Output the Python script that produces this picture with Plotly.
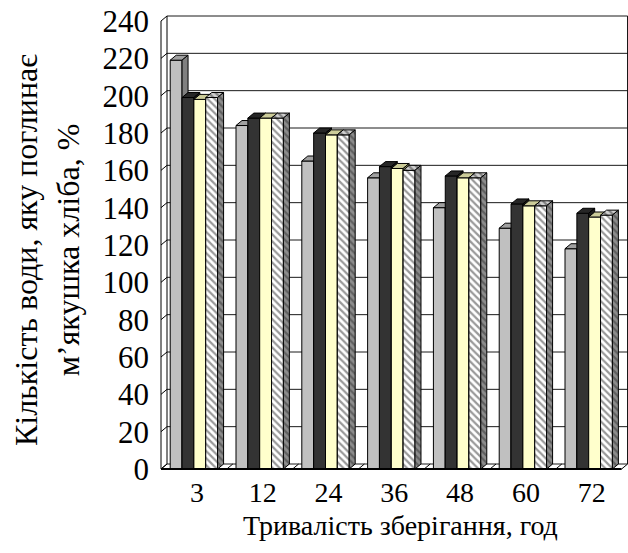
import plotly.graph_objects as go

# Storage time categories (hours) and absorbed-water values, %
hours = ["3", "12", "24", "36", "48", "60", "72"]
series_gray = [219, 184, 165, 156, 140, 129, 118]
series_black = [199, 188, 180, 162, 157, 142, 137]
series_yellow = [198, 188, 179, 161, 156, 141, 135]
series_hatch = [199, 188, 179, 160, 156, 141, 136]
y_ticks = list(range(0, 241, 20))

W, H = 628, 553
# pixel frame of the front plane and the 3-D depth offset
FRONT_L, FRONT_R = 161.0, 621.6
FRONT_B, FRONT_T = 469.0, 21.0
DEPTH_X, DEPTH_Y = 6.0, 5.0
PLOT_L, PLOT_R, PLOT_T, PLOT_B = 158, 628, 14, 471

n = len(hours)
sx = (FRONT_R - FRONT_L) / n
sy = (FRONT_B - FRONT_T) / 240.0
DX = DEPTH_X / sx
DY = DEPTH_Y / sy
x_lo = -0.5 - (FRONT_L - PLOT_L) / sx
x_hi = -0.5 + (PLOT_R - FRONT_L) / sx
y_lo = -(PLOT_B - FRONT_B) / sy
y_hi = (FRONT_B - PLOT_T) / sy

BAR_W = 0.18
GROUP_START = -0.36

styles = [
    dict(front="#C0C0C0", top="#A0A0A0", side="#808080", pat=None),
    dict(front="#333333", top="#262626", side="#1A1A1A", pat=None),
    dict(front="#FFFFCC", top="#CCCC99", side="#999966", pat=None),
    dict(front="#FFFFFF", top="#D0D0D0", side="#8C8C8C", pat="\\"),
]
all_series = [series_gray, series_black, series_yellow, series_hatch]

fig = go.Figure()


def line_trace(xs, ys, width=1, color="black"):
    fig.add_trace(go.Scatter(x=xs, y=ys, mode="lines", hoverinfo="skip",
                             line=dict(color=color, width=width),
                             showlegend=False))


# back wall gridlines
gx, gy = [], []
for v in y_ticks:
    gx += [-0.5 + DX, n - 0.5 + DX, None]
    gy += [v + DY, v + DY, None]
line_trace(gx, gy, 1, "#1A1A1A")
# back wall side edges
line_trace([-0.5 + DX, -0.5 + DX, None, n - 0.5 + DX, n - 0.5 + DX],
           [DY, 240 + DY, None, DY, 240 + DY])
# left wall: front edge, top edge and the tick diagonals
wx, wy = [-0.5, -0.5, None], [0, 240, None]
for v in y_ticks:
    wx += [-0.5, -0.5 + DX, None]
    wy += [v, v + DY, None]
line_trace(wx, wy)
# floor: diagonals at category boundaries
fx, fy = [], []
for k in range(n + 1):
    fx += [k - 0.5, k - 0.5 + DX, None]
    fy += [0, DY, None]
line_trace(fx, fy)


def face_trace(xs, ys, color, pat, pat_bg):
    kw = dict(x=xs, y=ys, mode="lines", fill="toself", fillcolor=color,
              line=dict(color="black", width=1), hoverinfo="skip",
              showlegend=False)
    if pat:
        kw["fillpattern"] = dict(shape=pat, fgcolor="#333333",
                                 bgcolor=pat_bg, size=5, solidity=0.45)
    fig.add_trace(go.Scatter(**kw))


# 3-D columns: front, top and side faces for each series in turn
for s, (vals, st) in enumerate(zip(all_series, styles)):
    front_x, front_y, top_x, top_y, side_x, side_y = [], [], [], [], [], []
    for k, v in enumerate(vals):
        x0 = k + GROUP_START + s * BAR_W
        x1 = x0 + BAR_W
        front_x += [x0, x1, x1, x0, x0, None]
        front_y += [0, 0, v, v, 0, None]
        top_x += [x0, x1, x1 + DX, x0 + DX, x0, None]
        top_y += [v, v, v + DY, v + DY, v, None]
        side_x += [x1, x1 + DX, x1 + DX, x1, x1, None]
        side_y += [0, DY, v + DY, v, 0, None]
    face_trace(front_x, front_y, st["front"], st["pat"], st["front"])
    face_trace(top_x, top_y, st["top"], st["pat"], st["top"])
    face_trace(side_x, side_y, st["side"], st["pat"], st["side"])

# thick front edge of the floor
line_trace([-0.5, n - 0.5], [0, 0], 2)


def px_x(p):
    return (p - PLOT_L) / (PLOT_R - PLOT_L)


def px_y(p):
    return (PLOT_B - p) / (PLOT_B - PLOT_T)


serif = "Liberation Serif"
fig.update_layout(
    width=W, height=H,
    margin=dict(l=PLOT_L, r=W - PLOT_R, t=PLOT_T, b=H - PLOT_B),
    paper_bgcolor="white", plot_bgcolor="white",
    showlegend=False,
    font=dict(family=serif, color="black"),
    xaxis=dict(range=[x_lo, x_hi], showgrid=False, zeroline=False,
               showline=False, ticks="",
               tickvals=[k + DX / 2 for k in range(n)], ticktext=hours,
               tickfont=dict(size=28, family=serif),
               ticklabelstandoff=2),
    yaxis=dict(range=[y_lo, y_hi], showgrid=False, zeroline=False,
               showline=False, ticks="", tickvals=y_ticks,
               tickfont=dict(size=31, family=serif),
               ticklabelstandoff=8),
    annotations=[
        dict(text="Тривалість зберігання, год", xref="paper", yref="paper",
             x=px_x(400), y=px_y(525), xanchor="center", yanchor="middle",
             showarrow=False, font=dict(size=28, family=serif)),
        dict(text="Кількість води, яку поглинає<br>м’якушка хліба, %",
             xref="paper", yref="paper", x=px_x(47), y=px_y(250),
             xanchor="center", yanchor="middle", textangle=-90,
             showarrow=False, font=dict(size=32, family=serif)),
    ],
)

fig.write_html("out.html")
